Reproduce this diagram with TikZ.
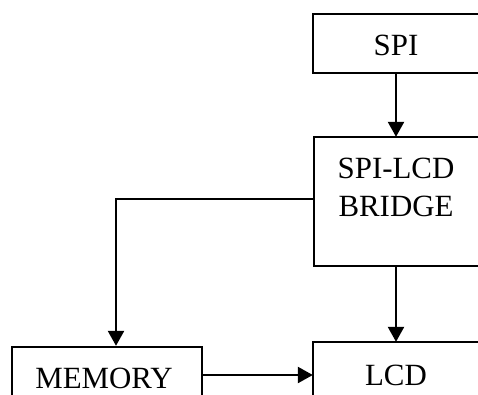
\documentclass[tikz,border=0pt]{standalone}
\usepackage{fontspec}
\setmainfont{Liberation Serif}
\usetikzlibrary{arrows.meta}
\tikzset{
  blk/.style={draw, line width=2.4bp, inner sep=0pt},
  openblk/.style={inner sep=0pt},
  edge/.style={line width=2.4bp, line join=miter},
  lbl/.style={inner sep=0pt, font=\fontsize{31}{38}\selectfont},
  arr/.style={line width=2.4bp, -{Triangle[length=15bp,width=16bp]}}
}
\begin{document}
\begin{tikzpicture}[x=1bp, y=-1bp]
  \useasboundingbox (0,0) rectangle (478,394);
  \clip (0,0) rectangle (478,394);
  % blocks on the right run off the page, so only three sides are drawn
  \node[openblk, minimum width=187bp, minimum height=59bp] (spi) at (406.5,43.5) {};
  \node[openblk, minimum width=186bp, minimum height=129bp] (bridge) at (407,201.5) {};
  \node[openblk, minimum width=187bp, minimum height=64bp] (lcd) at (406.5,374) {};
  \node[blk, minimum width=190bp, minimum height=60bp] (mem) at (107,377) {};
  \foreach \b in {spi,bridge,lcd}
    \draw[edge] (\b.north east) -- (\b.north west) -- (\b.south west) -- (\b.south east);
  % block captions
  \node[lbl, anchor=base] (spiT) at (396,55) {SPI};
  \node[lbl, anchor=base] (bridgeA) at (396,178) {SPI-LCD};
  \node[lbl, anchor=base] (bridgeB) at (396,216) {BRIDGE};
  \node[lbl, anchor=base] (lcdT) at (396,385) {LCD};
  \node[lbl, anchor=base] (memT) at (104,388) {MEMORY};
  % connectors
  \draw[arr] (spi.south -| 396,0) -- (bridge.north -| 396,0);
  \draw[arr] (bridge.south -| 396,0) -- (lcd.north -| 396,0);
  \coordinate (turn) at (116,199);
  \draw[arr] (bridge.west |- turn) -- (turn) -- (turn |- mem.north);
  \draw[arr] (mem.east |- 0,375) -- (lcd.west |- 0,375);
\end{tikzpicture}
\end{document}
